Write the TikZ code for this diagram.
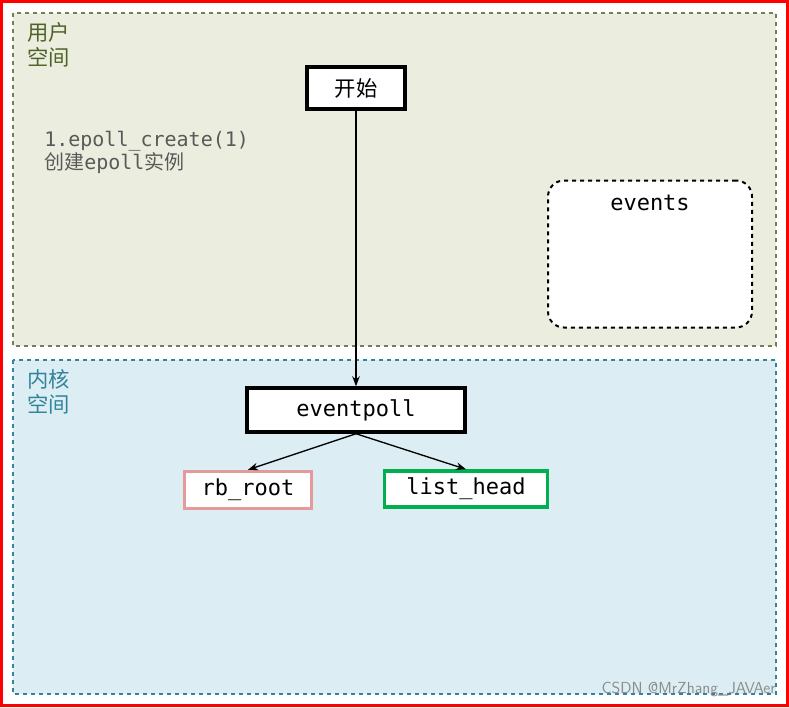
\documentclass[tikz,border=0pt]{standalone}
\usepackage{fontspec}
\setmonofont{DejaVu Sans Mono}
\newfontfamily\cjk{Noto Sans CJK SC}
\usetikzlibrary{positioning,arrows.meta}
\definecolor{olivgronn}{HTML}{4F6228}
\definecolor{lysgronn}{HTML}{EBEEDF}
\definecolor{blagronn}{HTML}{31849B}
\definecolor{lysbla}{HTML}{DCEEF3}
\definecolor{rosa}{HTML}{E39A9A}
\definecolor{gronn}{HTML}{00B050}
\begin{document}
\begin{tikzpicture}[x=0.75pt,y=-0.75pt,>=Stealth]
    \tikzset{
        databox/.style={
            draw=black,
            line width=2.6pt,
            fill=white,
            font=\fontsize{16.5}{19}\selectfont\ttfamily,
            inner sep=0pt
        },
        area/.style={
            dashed,
            line width=0.8pt
        },
        tag/.style={
            font=\fontsize{16}{19}\selectfont\cjk,
            anchor=north west,
            align=left,
            inner sep=0pt
        },
        link/.style={
            ->,
            line width=1pt
        }
    }

    % Ramme og omraader
    \useasboundingbox (0,0) rectangle (789,707);
    \draw[red, line width=2.8pt] (1.5,1.5) rectangle (787.5,705.5);
    \draw[area, draw=olivgronn!80, fill=lysgronn] (13,13) rectangle (776,346);
    \draw[area, draw=blagronn, fill=lysbla] (13,360) rectangle (776,694);
    \node[tag, text=olivgronn] (user) at (27,22) {用户\\空间};
    \node[tag, text=blagronn] (kernel) at (27,369) {内核\\空间};

    % Noder
    \node[databox, minimum width=98pt*0.75, minimum height=42pt*0.75, font=\fontsize{16}{19}\selectfont\cjk] (start) at (356,88) {开始};
    \node[font=\fontsize{15}{17}\selectfont\ttfamily, text=black!65, anchor=north west, align=left, inner sep=0pt] (note) at (44,131)
        {1.epoll\_create(1)\\{\cjk 创建}epoll{\cjk 实例}};
    \node[draw=black, dashed, line width=1.5pt, rounded corners=12pt, fill=white,
          minimum width=204pt*0.75, minimum height=147pt*0.75] (events) at (650,254) {};
    \node[font=\fontsize{16.5}{19}\selectfont\ttfamily, anchor=north] (evtext) at (events.north) [yshift=-8pt] {events};
    \node[databox, minimum width=218pt*0.75, minimum height=44pt*0.75] (epoll) at (356,410) {eventpoll};
    \node[databox, draw=rosa, minimum width=127pt*0.75, minimum height=37pt*0.75] (rb) at (248,490) {rb\_root};
    \node[databox, draw=gronn, minimum width=163pt*0.75, minimum height=36pt*0.75] (list) at (466,489) {list\_head};

    % Piler
    \draw[link] (start) -- (epoll);
    \draw[link] (epoll.south) -- (rb.north);
    \draw[link] (epoll.south) -- (list.north);

    \node[font=\fontsize{12}{14}\selectfont\sffamily, text=black!45, anchor=south east, inner sep=0pt] (mark) at (776,697) {CSDN @MrZhang\_JAVAer};
\end{tikzpicture}
\end{document}
